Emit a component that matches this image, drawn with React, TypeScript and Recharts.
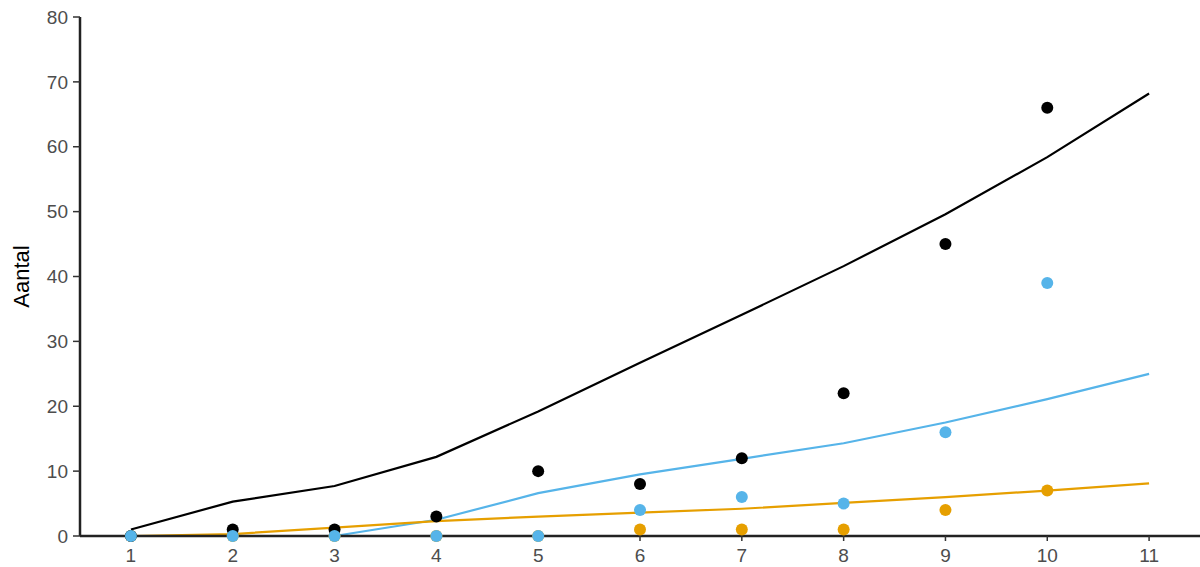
import { ComposedChart, Line, Scatter, XAxis, YAxis } from "recharts";

const xs = [1, 2, 3, 4, 5, 6, 7, 8, 9, 10, 11];
const fitTotal = [1, 5.3, 7.7, 12.2, 19.2, 26.7, 34.1, 41.6, 49.6, 58.4, 68.2];
const fitBlue = [null, null, 0, 2.5, 6.6, 9.5, 11.9, 14.3, 17.5, 21.1, 25.0];
const fitOrange = [0, 0.3, 1.3, 2.3, 3.0, 3.6, 4.2, 5.1, 6.0, 7.0, 8.1];

const obsX = [1, 2, 3, 4, 5, 6, 7, 8, 9, 10];
const obsTotal = [0, 1, 1, 3, 10, 8, 12, 22, 45, 66];
const obsBlue = [0, 0, 0, 0, 0, 4, 6, 5, 16, 39];
const obsOrange = [0, 0, 0, 0, 0, 1, 1, 1, 4, 7];

const yTicks = [0, 10, 20, 30, 40, 50, 60, 70, 80];

const BLACK = "#000000";
const BLUE = "#56B4E9";
const ORANGE = "#E69F00";

const lineData = xs.map((x, i) => ({
  x,
  total: fitTotal[i],
  blue: fitBlue[i],
  orange: fitOrange[i],
}));

const pts = (vals: number[]) => obsX.map((x, i) => ({ x, y: vals[i] }));

const dot = (color: string) => (p: any) => (
  <circle cx={p.cx} cy={p.cy} r={6} fill={color} />
);

const font = "Liberation Sans, Arial, sans-serif";
const tick = { fontSize: 19, fill: "#4d4d4d", fontFamily: font };

export default function App() {
  return (
    <div style={{ position: "absolute", left: 0, top: 0, background: "#fff" }}>
      <ComposedChart
        width={1200}
        height={567}
        data={lineData}
        margin={{ top: 17, right: 0, bottom: 0, left: 0 }}
      >
        <XAxis
          dataKey="x"
          type="number"
          domain={[0.5, 11.5]}
          ticks={xs}
          interval={0}
          tick={tick}
          fontSize={19}
          tickSize={5}
          tickMargin={8}
          tickLine={{ stroke: "#333", strokeWidth: 1.5 }}
          axisLine={{ stroke: "#222", strokeWidth: 2.5 }}
          height={31}
          allowDataOverflow
        />
        <YAxis
          type="number"
          domain={[0, 80]}
          ticks={yTicks}
          interval={0}
          tick={tick}
          fontSize={19}
          tickSize={7}
          tickMargin={5}
          tickLine={{ stroke: "#333", strokeWidth: 1.5 }}
          axisLine={{ stroke: "#222", strokeWidth: 2.5 }}
          width={80}
          label={{
            value: "Aantal",
            angle: -90,
            position: "insideLeft",
            offset: 21,
            style: { fontSize: 22, fill: "#000", fontFamily: font, textAnchor: "middle" },
          }}
        />
        <Line dataKey="total" stroke={BLACK} strokeWidth={2.2} dot={false} isAnimationActive={false} />
        <Line dataKey="blue" stroke={BLUE} strokeWidth={2.2} dot={false} isAnimationActive={false} />
        <Line dataKey="orange" stroke={ORANGE} strokeWidth={2.2} dot={false} isAnimationActive={false} />
        <Scatter data={pts(obsOrange)} dataKey="y" shape={dot(ORANGE)} isAnimationActive={false} />
        <Scatter data={pts(obsTotal)} dataKey="y" shape={dot(BLACK)} isAnimationActive={false} />
        <Scatter data={pts(obsBlue)} dataKey="y" shape={dot(BLUE)} isAnimationActive={false} />
      </ComposedChart>
    </div>
  );
}
